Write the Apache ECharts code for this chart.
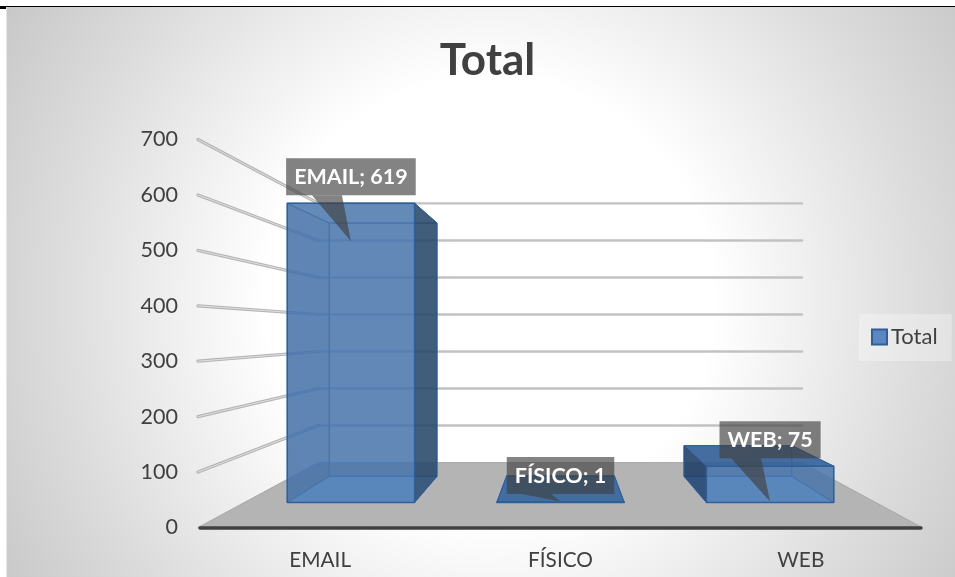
<!DOCTYPE html>
<html>
<head>
<meta charset="utf-8">
<title>Total</title>
<style>
  html, body { margin: 0; padding: 0; background: #fff; }
  #chart { width: 955px; height: 577px; }
</style>
<script src="https://cdn.jsdelivr.net/npm/echarts@6/dist/echarts.min.js"></script>
</head>
<body>
<div id="chart"></div>
<script>
const categories = ['EMAIL', 'FÍSICO', 'WEB'];
const totalValues = [619, 1, 75];
const tickValues = [0, 100, 200, 300, 400, 500, 600, 700];

const FONT = 'Lato';

// fake 3d: everything goes through the axes, then gets pulled toward the vanishing point
const VP_Y = 332;
const S_BAR_FRONT = 0.872;
const S_BAR_BACK = 0.738;
const S_WALL = 0.668;
const BAR_HALF = 73;
// floor and walls stick out a little past the category bands
const OVER_LEFT = 2;
const OVER_RIGHT = 1;

const project = (pt, s, coordSys) => {
  const vpX = coordSys.x + coordSys.width / 2;
  return [vpX + (pt[0] - vpX) * s, VP_Y + (pt[1] - VP_Y) * s];
};

const poly = (points, fill, stroke, lineWidth) => ({
  type: 'polygon',
  shape: { points },
  style: { fill, stroke: stroke || 'none', lineWidth: lineWidth || 0, lineJoin: 'round' }
});

const wallLine = (points, color, width) => ({
  type: 'polyline',
  shape: { points },
  style: { fill: 'none', stroke: color, lineWidth: width, lineCap: 'round', lineJoin: 'round' }
});

const renderFloor = (params, api) => {
  const cs = params.coordSys;
  const y0 = api.coord([0, 0])[1];
  const fl = [cs.x - OVER_LEFT, y0];
  const fr = [cs.x + cs.width + OVER_RIGHT, y0];
  return poly([fl, fr, project(fr, S_WALL, cs), project(fl, S_WALL, cs)], '#b4b4b4', '#a8a8a8', 1);
};

const renderGridLine = (params, api) => {
  const cs = params.coordSys;
  const y = api.coord([0, api.value(1)])[1];
  const left = [cs.x - OVER_LEFT, y];
  const backL = project(left, S_WALL, cs);
  const backR = project([cs.x + cs.width + OVER_RIGHT, y], S_WALL, cs);
  return {
    type: 'group',
    children: [
      wallLine([backL, backR], '#c2c2c2', 2.4),
      wallLine([left, backL], '#b4b4b4', 3.2),
      wallLine([left, backL], '#e4e4e4', 0.9)
    ]
  };
};

const renderBar = (params, api) => {
  const cs = params.coordSys;
  const i = params.dataIndex;
  const value = api.value(1);
  const center = api.coord([i, 0]);
  const top = api.coord([i, value]);
  const corner = (dx, y, s) => project([center[0] + dx, y], s, cs);

  const fbl = corner(-BAR_HALF, center[1], S_BAR_FRONT);
  const fbr = corner(BAR_HALF, center[1], S_BAR_FRONT);
  const ftl = corner(-BAR_HALF, top[1], S_BAR_FRONT);
  const ftr = corner(BAR_HALF, top[1], S_BAR_FRONT);
  const bbl = corner(-BAR_HALF, center[1], S_BAR_BACK);
  const bbr = corner(BAR_HALF, center[1], S_BAR_BACK);
  const btl = corner(-BAR_HALF, top[1], S_BAR_BACK);
  const btr = corner(BAR_HALF, top[1], S_BAR_BACK);

  const thinEdge = 'rgb(66,120,188)';
  const darkEdge = '#2f5f97';
  // the side toward the middle of the chart is the one you see from the outside
  const leftOfCentre = center[0] < cs.x + cs.width / 2 - 1;
  const rightOfCentre = center[0] > cs.x + cs.width / 2 + 1;
  const children = [
    poly([bbl, bbr, fbr, fbl], 'rgb(170,215,255)', thinEdge, 1),
    poly([btl, btr, bbr, bbl], 'rgba(70,115,170,0.25)', thinEdge, 1)
  ];
  if (leftOfCentre) children.push(poly([ftl, btl, bbl, fbl], 'rgba(50,90,140,0.3)', thinEdge, 1));
  if (rightOfCentre) children.push(poly([ftr, btr, bbr, fbr], 'rgba(50,90,140,0.12)', thinEdge, 1));
  if (top[1] < VP_Y) {
    children.push(poly([ftl, ftr, btr, btl], 'rgba(70,115,170,0.2)', thinEdge, 1));
  } else {
    children.push(poly([ftl, ftr, btr, btl], 'rgba(50,95,150,0.88)', darkEdge, 1));
  }
  if (leftOfCentre) children.push(poly([ftr, btr, bbr, fbr], 'rgba(40,70,105,0.85)', darkEdge, 1));
  if (rightOfCentre) children.push(poly([ftl, btl, bbl, fbl], 'rgba(30,60,100,0.85)', darkEdge, 1));
  children.push(poly([ftl, ftr, fbr, fbl], 'rgba(70,115,170,0.8)', darkEdge, 1.5));

  // grid lines showing through the bar
  const through = tickValues.filter((t) => t < 700 && value > 100).map((t) => {
    const y = api.coord([0, t])[1];
    const left = [cs.x - OVER_LEFT, y];
    return wallLine([left, project(left, S_WALL, cs), project([cs.x + cs.width + OVER_RIGHT, y], S_WALL, cs)], 'rgba(72,128,196,0.35)', 1.1);
  });
  children.push({
    type: 'group',
    clipPath: { type: 'rect', shape: { x: ftl[0] + 1, y: ftl[1] + 1, width: ftr[0] - ftl[0] - 2, height: fbl[1] - ftl[1] - 2 } },
    children: through
  });
  return { type: 'group', children };
};

const renderCallout = (params, api) => {
  const cs = params.coordSys;
  const i = params.dataIndex;
  const center = api.coord([i, 0]);
  const top = api.coord([i, api.value(1)]);
  const anchor = project(top, S_BAR_FRONT, cs);
  const floorY = project(center, S_BAR_FRONT, cs)[1];
  const boxBottom = anchor[1] - 8;
  const tip = [anchor[0], Math.min(anchor[1] + 38, floorY - 1)];
  return {
    type: 'group',
    children: [
      poly([[anchor[0] - 39, boxBottom], [anchor[0] - 9, boxBottom], tip], 'rgba(64,64,64,0.65)'),
      {
        type: 'text',
        style: {
          text: categories[i] + '; ' + api.value(1),
          x: anchor[0],
          y: boxBottom,
          align: 'center',
          verticalAlign: 'bottom',
          fill: '#fff',
          font: 'bold 21.5px ' + FONT,
          backgroundColor: 'rgba(64,64,64,0.65)',
          padding: [8, 8, 7, 8]
        }
      }
    ]
  };
};

const chart = echarts.init(document.getElementById('chart'));

const option = {
  animation: false,
  title: {
    text: 'Total',
    left: 482.5,
    top: 34,
    textAlign: 'center',
    textStyle: { fontFamily: FONT, fontSize: 44, fontWeight: 'bold', color: '#404040' }
  },
  legend: {
    left: 859,
    top: 314,
    orient: 'vertical',
    padding: [12, 14, 13, 12],
    backgroundColor: 'rgba(255,255,255,0.3)',
    itemWidth: 15,
    itemHeight: 15,
    itemGap: 0,
    textStyle: { fontFamily: FONT, fontSize: 22, color: '#404040', padding: [0, 0, 0, -1] },
    data: [{ name: 'Total', icon: 'rect', itemStyle: { color: '#5b86c0', borderColor: '#2f5f97', borderWidth: 2 } }]
  },
  grid: { left: 200, right: 34, top: 139.5, bottom: 49.5 },
  xAxis: {
    type: 'category',
    data: categories,
    z: 5,
    axisTick: { show: false },
    axisLine: { lineStyle: { color: '#404040', width: 3.5, cap: 'round' } },
    axisLabel: { margin: 22, fontFamily: FONT, fontSize: 20.8, color: '#404040' }
  },
  yAxis: {
    type: 'value',
    min: 0,
    max: 700,
    interval: 100,
    axisLine: { show: false },
    axisTick: { show: false },
    splitLine: { show: false },
    axisLabel: { margin: 22, fontFamily: FONT, fontSize: 21.5, color: '#404040' }
  },
  series: [
    { type: 'custom', name: 'floor', silent: true, z: 1, data: [[0, 0]], renderItem: renderFloor },
    { type: 'custom', name: 'gridlines', silent: true, z: 2, data: tickValues.slice(1).map((t) => [0, t]), renderItem: renderGridLine },
    { type: 'custom', name: 'Total', z: 3, data: totalValues.map((v, i) => [categories[i], v]), renderItem: renderBar, itemStyle: { color: '#5b86c0' } },
    { type: 'custom', name: 'labels', silent: true, z: 4, data: totalValues.map((v, i) => [categories[i], v]), renderItem: renderCallout }
  ],
  graphic: [
    {
      type: 'rect', z: -10, silent: true,
      shape: { x: 6, y: 7, width: 949, height: 570 },
      style: {
        fill: new echarts.graphic.RadialGradient(490, 300, 620, [
          { offset: 0, color: '#ffffff' },
          { offset: 0.36, color: '#ffffff' },
          { offset: 0.7, color: '#dcdcdc' },
          { offset: 1, color: '#c0c0c0' }
        ], true)
      }
    },
    { type: 'rect', z: -9, silent: true, shape: { x: 6, y: 7, width: 1, height: 570 }, style: { fill: '#e6e6e6' } },
    { type: 'rect', z: -9, silent: true, shape: { x: 0, y: 6, width: 955, height: 1 }, style: { fill: '#000' } },
    { type: 'rect', z: -9, silent: true, shape: { x: 0, y: 6, width: 6, height: 3 }, style: { fill: '#000' } }
  ]
};

chart.setOption(option);
window.addEventListener('resize', () => chart.resize());
</script>
</body>
</html>
